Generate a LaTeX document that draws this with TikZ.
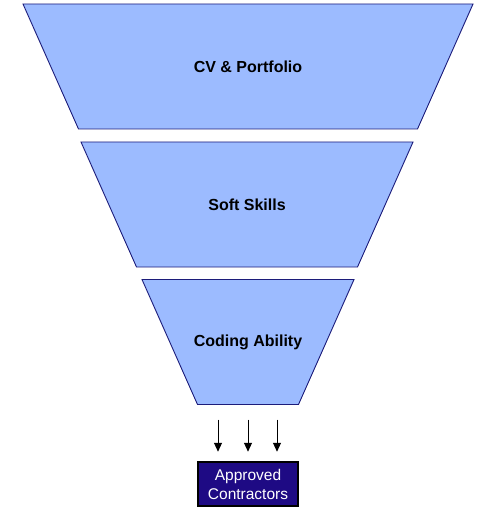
\documentclass[tikz,border=0pt]{standalone}
\usepackage{fontspec}
\setmainfont{Liberation Sans}
\usepackage{tikz}
\usetikzlibrary{arrows.meta, positioning}
\definecolor{funnelfill}{HTML}{9CBBFF}
\definecolor{funnelline}{HTML}{1C1C7A}
\definecolor{boxfill}{HTML}{1E0A84}
\tikzstyle{arrow} = [line width=0.9pt,-{Triangle[width=8pt,length=9pt]}]
\tikzstyle{funnel} = [draw=funnelline, fill=funnelfill, line width=0.9pt]
\tikzstyle{stage} = [rectangle, minimum height=125pt, inner sep=0pt,
  font=\bfseries\fontsize{16}{19}\selectfont]
\tikzstyle{approvedbox} = [rectangle, draw=black, line width=2.5pt, fill=boxfill,
  text=white, align=center, minimum width=100pt, minimum height=44pt, inner sep=0pt,
  font=\fontsize{15.5}{19}\selectfont]

\begin{document}
\begin{tikzpicture}[x=1pt,y=-1pt]
        \useasboundingbox (0,0) rectangle (493,518);
        % funnel stages: name / centre x / centre y / top width / label
        \foreach \name/\cx/\cy/\w/\txt in {cv/248/66.5/450/CV \& Portfolio,
                soft/247/204.5/332/Soft Skills, ability/248/342/212/Coding Ability} {
            \filldraw[funnel] (\cx-\w/2,\cy-62.5) -- (\cx+\w/2,\cy-62.5)
                -- (\cx+\w/2-55.5,\cy+62.5) -- (\cx-\w/2+55.5,\cy+62.5) -- cycle;
            \node[stage, minimum width=\w pt] (\name) at (\cx,\cy) {\txt};
        }
        \node[approvedbox] (approved) at (248,484) {Approved\\Contractors};
        \foreach \dx in {-30,0,29}
            \draw[arrow] ([xshift=\dx pt,yshift=-15pt]ability.south) -- ([xshift=\dx pt,yshift=9pt]approved.north);
    \end{tikzpicture}
\end{document}
